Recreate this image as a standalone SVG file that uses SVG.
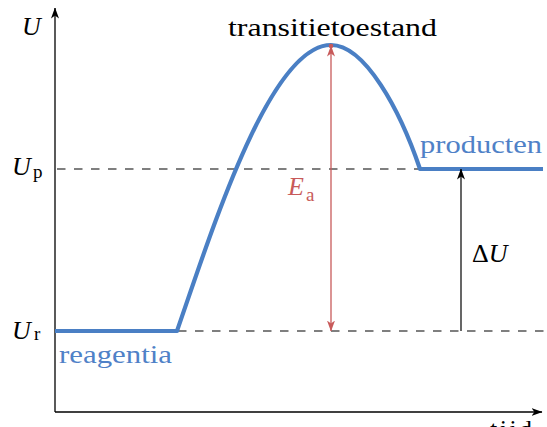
<svg xmlns="http://www.w3.org/2000/svg" width="547" height="427" viewBox="0 0 547 427">
<style>
text{font-family:'Liberation Serif','DejaVu Serif',serif;font-size:26px;fill:#000}
.it{font-style:italic}
.blue{fill:#4f81c7}
.red{fill:#c85a5a}
.sub{font-size:19px}
.dash{stroke:#555;stroke-width:1.5;stroke-dasharray:8.5 8.5;fill:none}
.axis{stroke:#000;stroke-width:1.3;fill:none}
.curve{stroke:#4a7fc4;stroke-width:4.2;fill:none;stroke-linejoin:round}
</style>
<defs>
<marker id="ak" viewBox="0 0 11 8" refX="10.5" refY="4" markerWidth="11" markerHeight="8" orient="auto-start-reverse" markerUnits="userSpaceOnUse"><path d="M0,0 L11,4 L0,8 L3,4 z" fill="#000"/></marker>
<marker id="ar" viewBox="0 0 11 8" refX="10.5" refY="4" markerWidth="11" markerHeight="8" orient="auto-start-reverse" markerUnits="userSpaceOnUse"><path d="M0,0 L11,4 L0,8 L3,4 z" fill="#c85a5a"/></marker>
</defs>
<g id="axes" font-family="Liberation Serif, DejaVu Serif, serif">
<path class="axis" d="M55,412 V8" marker-end="url(#ak)"/>
<path class="axis" d="M55,412 H542" marker-end="url(#ak)"/>
<text class="it" x="22" y="35">U</text>
<text x="490" y="438" textLength="42" lengthAdjust="spacing">tijd</text>
</g>
<g id="levels">
<path class="dash" d="M57,169 H420"/>
<path class="dash" d="M178,331 H547"/>
<text class="it" x="12" y="175">U</text><text class="sub" x="33" y="178">p</text>
<text class="it" x="12" y="339">U</text><text class="sub" x="34" y="340">r</text>
</g>
<g id="curve">
<path class="curve" d="M55,331 H177 C212,230 270,45 331,45 C365,45 400,110 420,169 H543"/>
</g>
<g id="connectors">
<path d="M331,46 V331" stroke="#c85a5a" stroke-width="1.3" fill="none" marker-start="url(#ar)" marker-end="url(#ar)"/>
<circle cx="331" cy="46" r="2.3" fill="#c85a5a"/>
<path d="M461,331 V169" stroke="#000" stroke-width="1.2" fill="none" marker-end="url(#ak)"/>
</g>
<g id="labels">
<text x="228" y="36" textLength="209" lengthAdjust="spacingAndGlyphs">transitietoestand</text>
<text class="blue" x="420" y="153" textLength="122" lengthAdjust="spacingAndGlyphs">producten</text>
<text class="blue" x="59" y="363" textLength="113" lengthAdjust="spacingAndGlyphs">reagentia</text>
<text class="it red" x="288" y="195">E</text><text class="sub red" x="306" y="201">a</text>
<text x="472" y="262">Δ<tspan class="it">U</tspan></text>
</g>
</svg>
